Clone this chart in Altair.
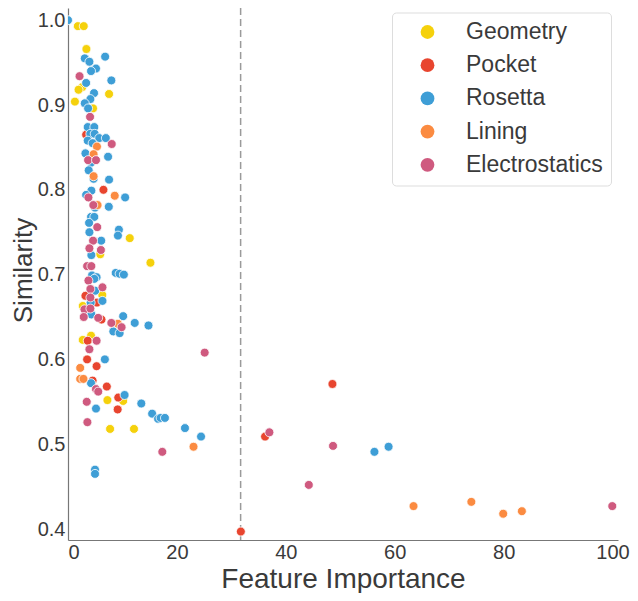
import altair as alt
import pandas as pd

categories = ["Geometry", "Pocket", "Rosetta", "Lining", "Electrostatics"]
palette = ["#F5D10C", "#E8452F", "#3E9ED6", "#FB8B41", "#CF5A7F"]

geometry_x = [1.81, 2.89, 3.38, 2.61, 1.94, 7.54, 1.27, 4.60, 11.34, 5.92, 15.14, 6.30,
              2.71, 4.23, 2.71, 7.24, 10.13, 7.73, 12.12]
geometry_y = [0.993, 0.993, 0.966, 0.921, 0.918, 0.913, 0.904, 0.896, 0.743, 0.724, 0.714, 0.676,
              0.663, 0.628, 0.623, 0.552, 0.551, 0.518, 0.518]

pocket_x = [3.33, 6.51, 3.20, 5.32, 6.15, 3.62, 3.51, 5.25, 4.52, 7.13, 9.23, 9.12, 36.19, 48.56, 31.74]
pocket_y = [0.865, 0.800, 0.675, 0.667, 0.647, 0.622, 0.600, 0.592, 0.575, 0.568, 0.555, 0.541,
            0.509, 0.571, 0.397]

rosetta_x = [0.0, 6.82, 3.08, 3.93, 5.14, 4.23, 7.96, 3.33, 4.78, 4.11, 3.08, 3.69, 3.62, 4.83,
             4.10, 4.90, 5.74, 6.95, 3.62, 4.52, 3.20, 7.36, 4.23, 3.80, 4.70, 7.54, 4.29, 3.33,
             10.49, 4.96, 7.49, 4.23, 4.83, 3.87, 9.35, 9.17, 3.93, 6.10, 4.29, 8.76, 9.48, 10.26,
             4.41, 5.25, 4.83, 5.00, 6.33, 4.16, 4.29, 10.13, 12.25, 14.78, 8.32, 9.48, 6.77, 4.23,
             10.39, 5.14, 13.46, 15.45, 16.54, 17.01, 17.80, 21.48, 24.43, 4.96, 4.96, 56.27, 58.87]
rosetta_y = [1.000, 0.957, 0.955, 0.951, 0.943, 0.940, 0.929, 0.926, 0.914, 0.907, 0.902, 0.896,
             0.874, 0.874, 0.866, 0.866, 0.861, 0.861, 0.858, 0.855, 0.843, 0.839, 0.832, 0.823,
             0.813, 0.812, 0.799, 0.794, 0.791, 0.779, 0.780, 0.768, 0.768, 0.761, 0.753, 0.746,
             0.750, 0.740, 0.723, 0.702, 0.701, 0.700, 0.699, 0.697, 0.695, 0.681, 0.669, 0.667,
             0.653, 0.651, 0.643, 0.640, 0.633, 0.631, 0.600, 0.572, 0.558, 0.542, 0.548, 0.536,
             0.530, 0.531, 0.531, 0.519, 0.509, 0.470, 0.465, 0.491, 0.497]

lining_x = [5.32, 4.70, 4.70, 8.58, 5.43, 9.17, 2.24, 2.24, 2.84, 23.05, 63.45, 74.07, 79.92, 83.35]
lining_y = [0.851, 0.842, 0.816, 0.793, 0.782, 0.642, 0.590, 0.577, 0.577, 0.497, 0.427, 0.432,
            0.418, 0.421]

electro_x = [2.12, 4.05, 8.03, 3.69, 5.14, 3.75, 4.65, 5.37, 4.60, 3.93, 6.04, 3.51, 4.29, 3.75,
             4.11, 6.33, 4.11, 3.02, 4.11, 2.89, 5.55, 7.96, 9.84, 5.25, 3.93, 5.14, 5.55, 3.44,
             3.56, 17.32, 25.10, 36.98, 48.67, 44.22, 99.95]
electro_y = [0.934, 0.886, 0.854, 0.835, 0.835, 0.791, 0.782, 0.756, 0.740, 0.731, 0.729, 0.710,
             0.710, 0.693, 0.683, 0.685, 0.673, 0.659, 0.660, 0.650, 0.649, 0.643, 0.638, 0.622,
             0.612, 0.565, 0.562, 0.550, 0.526, 0.491, 0.608, 0.514, 0.498, 0.452, 0.427]

threshold = [31.7]
x_ticks = [0, 20, 40, 60, 80, 100]
y_ticks = [0.4, 0.5, 0.6, 0.7, 0.8, 0.9, 1.0]

series = [
    ("Geometry", geometry_x, geometry_y),
    ("Pocket", pocket_x, pocket_y),
    ("Rosetta", rosetta_x, rosetta_y),
    ("Lining", lining_x, lining_y),
    ("Electrostatics", electro_x, electro_y),
]
rows = []
for name, xs, ys in series:
    for xv, yv in zip(xs, ys):
        rows.append({"Feature": name, "importance": xv, "similarity": yv})
df = pd.DataFrame(rows)

FONT = "Liberation Sans"
TXT = "#3a3a3a"
xscale = alt.Scale(domain=[0, 101], nice=False, zero=False)
yscale = alt.Scale(domain=[0.38703, 1.01439], nice=False, zero=False)

points = alt.Chart(df).mark_circle(
    size=80, opacity=1, stroke="white", strokeWidth=0.8, clip=True
).encode(
    x=alt.X("importance:Q", scale=xscale,
            axis=alt.Axis(title="Feature Importance", values=x_ticks, format="d",
                          labelPadding=2, titleFontSize=28, titleY=25.2, titleBaseline="top")),
    y=alt.Y("similarity:Q", scale=yscale,
            axis=alt.Axis(title="Similarity", values=y_ticks, format=".1f",
                          labelPadding=3, titleFontSize=26,
                          titleX=-36.6, titleY=262, titleBaseline="alphabetic")),
    color=alt.Color("Feature:N", scale=alt.Scale(domain=categories, range=palette),
                    legend=alt.Legend(title=None, orient="none", legendX=324, legendY=4.5)),
)

rule = alt.Chart(pd.DataFrame({"t": threshold})).mark_rule(
    color="#9a9a9a", strokeDash=[7, 4], strokeWidth=1.5
).encode(x=alt.X("t:Q", scale=xscale))

chart = alt.layer(rule, points).properties(
    width=550, height=532,
    autosize=alt.AutoSizeParams(type="none"),
    padding={"left": 60, "top": 0, "right": 12, "bottom": 53},
).configure_view(stroke=None).configure_axis(
    grid=False, ticks=False, domainColor="#777777", domainWidth=1.2,
    labelFont=FONT, labelFontSize=20, labelColor=TXT,
    titleFont=FONT, titleColor=TXT, titleFontWeight="normal",
).configure_legend(
    padding=8, strokeColor="#dddddd", cornerRadius=4, fillColor="white",
    symbolType="circle", symbolSize=190, symbolStrokeWidth=0, symbolOffset=16,
    labelFont=FONT, labelFontSize=23, labelColor=TXT, labelOffset=27,
    rowPadding=9.2,
)

chart.save("out.html", embed_options={"renderer": "svg", "actions": False})
